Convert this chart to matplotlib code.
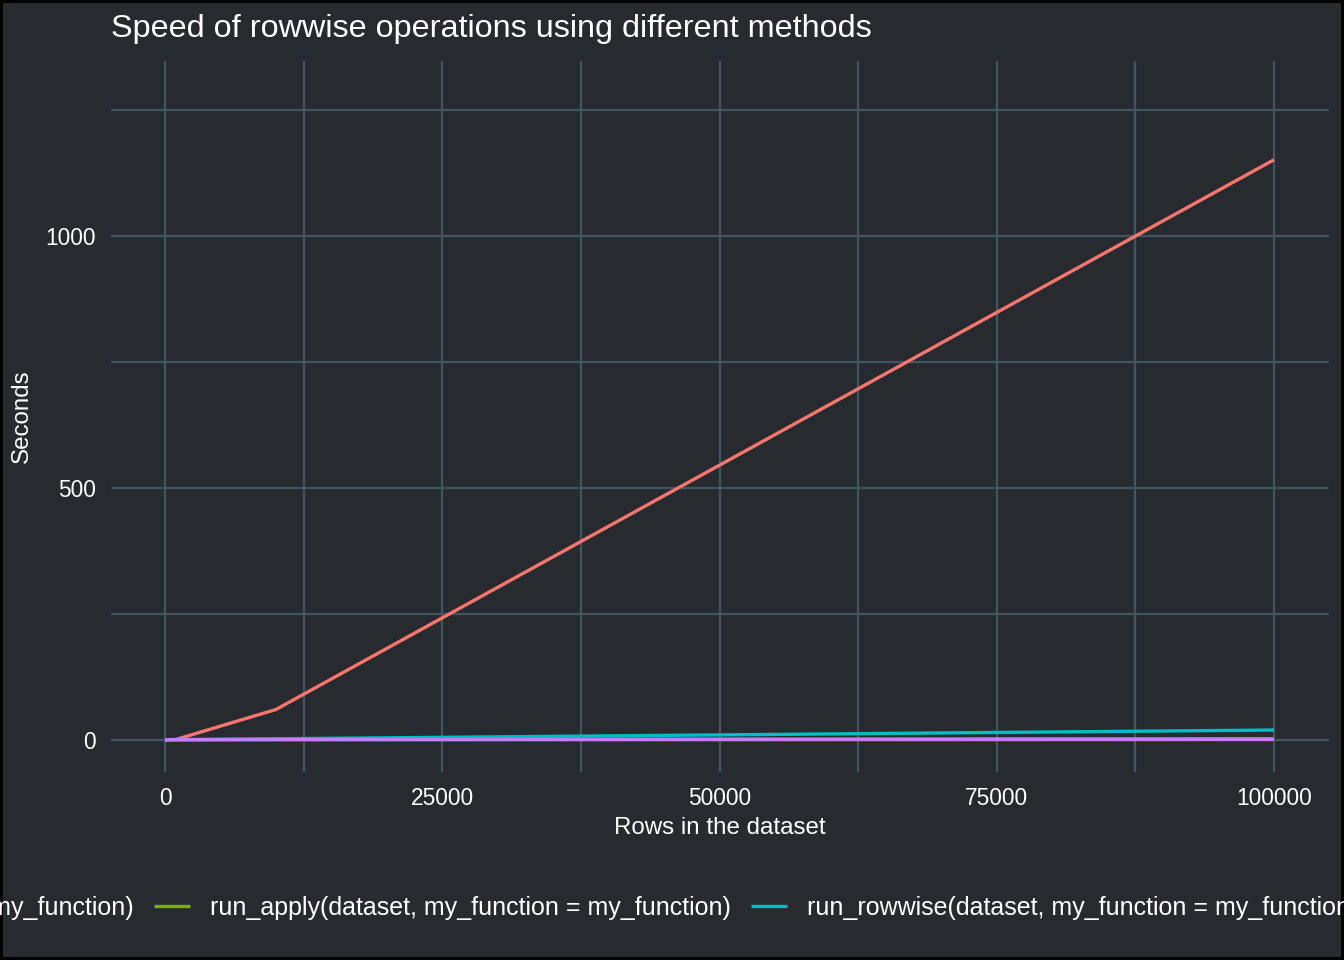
import matplotlib
matplotlib.use("Agg")
import matplotlib.pyplot as plt
from matplotlib.ticker import MultipleLocator

# benchmark results (seconds) by number of rows
rows = [10, 100, 1000, 10000, 100000]
for_loop = [0.01, 0.07, 0.65, 60, 1151]
apply_ = [0.002, 0.01, 0.09, 0.8, 2.0]
rowwise = [0.01, 0.03, 0.2, 1.9, 19.3]
pmap = [0.001, 0.003, 0.01, 0.06, 0.6]

labels = [
    "run_for_loop(dataset, my_function = my_function)",
    "run_apply(dataset, my_function = my_function)",
    "run_rowwise(dataset, my_function = my_function)",
    "run_pmap(dataset, my_function = my_function)",
]
colors = ["#F8766D", "#7CAE00", "#00BFC4", "#C77CFF"]

bg = "#272b30"
grid_col = "#405661"
plt.rcParams["font.family"] = ["Liberation Sans", "DejaVu Sans"]

W, H = 1344, 960
fig = plt.figure(figsize=(W / 100, H / 100), dpi=100, facecolor=bg,
                 edgecolor="black", linewidth=3)
ax = fig.add_axes([111 / W, 1 - 772 / H, (1329 - 111) / W, (772 - 61) / H])
ax.set_facecolor(bg)

for ys, lab, c in zip([for_loop, apply_, rowwise, pmap], labels, colors):
    ax.plot(rows, ys, color=c, lw=2.4, label=lab, solid_capstyle="butt")

ax.set_xlim(-4870, 104960)
ax.set_ylim(-64, 1347)
ax.xaxis.set_major_locator(MultipleLocator(25000))
ax.xaxis.set_minor_locator(MultipleLocator(12500))
ax.yaxis.set_major_locator(MultipleLocator(500))
ax.yaxis.set_minor_locator(MultipleLocator(250))
ax.grid(which="both", color=grid_col, lw=1.6)
ax.set_axisbelow(True)
for s in ax.spines.values():
    s.set_visible(False)
ax.tick_params(which="both", length=0, colors="white", labelsize=16.4, pad=11)
ax.set_xticks([0, 25000, 50000, 75000, 100000])
ax.set_xticklabels(["0", "25000", "50000", "75000", "100000"])

ax.set_title("Speed of rowwise operations using different methods", loc="left",
             color="white", fontsize=23.3, pad=17)
ax.set_xlabel("Rows in the dataset", color="white", fontsize=17.4)
ax.set_ylabel("Seconds", color="white", fontsize=17.4)
ax.xaxis.set_label_coords(0.5, -0.063)
ax.yaxis.set_label_coords(-0.064, 0.5)

leg = fig.legend(loc="center", bbox_to_anchor=(720 / W, 1 - 908 / H), ncol=4,
                 frameon=False, fontsize=18, labelcolor="white",
                 handlelength=1.44, handletextpad=0.8, columnspacing=0.8,
                 borderpad=0)

# shift the legend so the second label starts where it does in the original
fig.canvas.draw()
x0 = leg.get_texts()[1].get_window_extent().x0
leg.set_bbox_to_anchor(((720 + 210 - x0) / W, 1 - 908 / H))

fig.savefig("out.png", dpi=100, facecolor=bg)
